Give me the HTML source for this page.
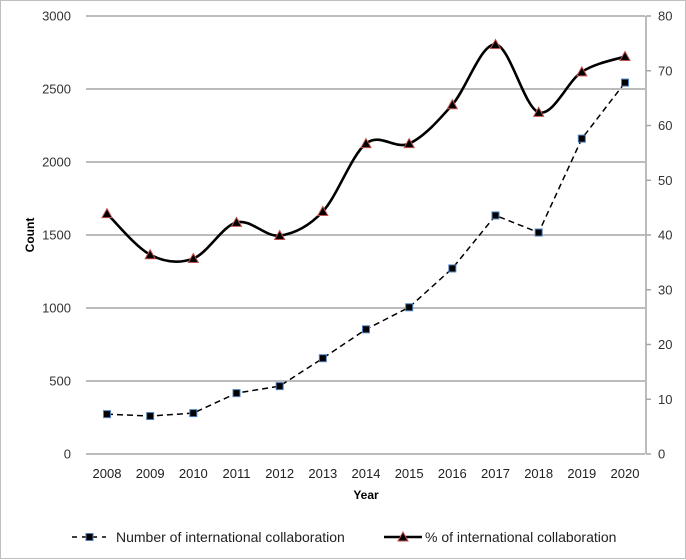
<!DOCTYPE html>
<html><head><meta charset="utf-8"><style>
body{margin:0;background:#fff;}
svg{display:block;font-family:"Liberation Sans",Arial,sans-serif;}
</style></head><body>
<svg width="686" height="560" viewBox="0 0 686 560">
<rect x="0.5" y="0.5" width="685" height="558" fill="#fff" stroke="#bfbfbf"/>
<g id="grid"></g>
<g id="axes"></g>
<path id="countLine" fill="none" stroke="#000" stroke-width="1.5" stroke-dasharray="6,4"/>
<path id="pctLine" fill="none" stroke="#000" stroke-width="2.6"/>
<g id="marks"></g>
<text x="34" y="235" transform="rotate(-90 34 235)" text-anchor="middle" font-size="12" font-weight="bold">Count</text>
<text x="366" y="499" text-anchor="middle" font-size="12" font-weight="bold">Year</text>
<g>
<line x1="72" y1="537" x2="106" y2="537" stroke="#000" stroke-width="1.5" stroke-dasharray="5,5"/>
<rect x="86" y="533.5" width="7" height="7" fill="#000" stroke="#4f81bd" stroke-width="1"/>
<text x="116" y="542" font-size="14" fill="#222">Number of international collaboration</text>
</g>
<g>
<line x1="384" y1="537" x2="422" y2="537" stroke="#000" stroke-width="2.6"/>
<polygon points="403,532 408,541 398,541" fill="#000" stroke="#c0504d" stroke-width="1"/>
<text x="425" y="542" font-size="14" fill="#222">% of international collaboration</text>
</g>
</svg>
<script>
const years=["2008","2009","2010","2011","2012","2013","2014","2015","2016","2017","2018","2019","2020"];
const countValues=[273,260,280,417,465,656,854,1005,1271,1634,1517,2160,2544];
const pctValues=[43.9,36.4,35.7,42.3,39.9,44.3,56.7,56.7,63.8,74.8,62.4,69.8,72.6];
const leftTicks=[0,500,1000,1500,2000,2500,3000];
const rightTicks=[0,10,20,30,40,50,60,70,80];
const NS="http://www.w3.org/2000/svg";
const X0=86,X1=645,Y0=454,Y1=16;
const xs=i=>107+i*(625-107)/(years.length-1);
const yL=v=>Y0-(v/3000)*(Y0-Y1);
const yR=v=>Y0-(v/80)*(Y0-Y1);
function mk(tag,attrs,parent){const e=document.createElementNS(NS,tag);for(const k in attrs)e.setAttribute(k,attrs[k]);parent.appendChild(e);return e;}
const grid=document.getElementById('grid'),axes=document.getElementById('axes'),marks=document.getElementById('marks');
leftTicks.forEach(t=>{
 const l=mk('line',{x1:X0,x2:X1,y1:yL(t),y2:yL(t),stroke:'#a6a6a6','stroke-width':1.5},grid);
 
 
 const tx=mk('text',{x:71,y:yL(t)+4.5,'text-anchor':'end','font-size':13,fill:'#333'},axes);
 tx.textContent=t;
 
 
});
mk('line',{x1:646,x2:646,y1:Y1,y2:Y0,stroke:'#a6a6a6','stroke-width':1.5},axes);
rightTicks.forEach(t=>{
 mk('line',{x1:646,x2:651,y1:yR(t),y2:yR(t),stroke:'#a6a6a6','stroke-width':1.5},axes);
 const tx=mk('text',{x:658,y:yR(t)+4.5,'font-size':13,fill:'#333'},axes);
 tx.textContent=t;
 
 
});
years.forEach((y,i)=>{
 const tx=mk('text',{x:xs(i),y:478,'text-anchor':'middle','font-size':13,fill:'#222'},axes);
 tx.textContent=y;
 
 
});
const cp=countValues.map((v,i)=>[xs(i),yL(v)]);
document.getElementById('countLine').setAttribute('d','M'+cp.map(p=>p.join(',')).join(' L'));
const pp=pctValues.map((v,i)=>[xs(i),yR(v)]);
let d='M'+pp[0].join(',');
for(let i=0;i<pp.length-1;i++){
 const p0=pp[Math.max(0,i-1)],p1=pp[i],p2=pp[i+1],p3=pp[Math.min(pp.length-1,i+2)];
 const k=1/6;
 d+=` C${p1[0]+(p2[0]-p0[0])*k},${p1[1]+(p2[1]-p0[1])*k} ${p2[0]-(p3[0]-p1[0])*k},${p2[1]-(p3[1]-p1[1])*k} ${p2[0]},${p2[1]}`;
}
document.getElementById('pctLine').setAttribute('d',d);
cp.forEach(p=>{
 const r=mk('rect',{x:p[0]-3.5,y:p[1]-3.5,width:7,height:7,fill:'#000',stroke:'#4f81bd','stroke-width':1},marks);
 
 
});
pp.forEach(p=>{
 const t=mk('polygon',{points:`${p[0]},${p[1]-5} ${p[0]+5},${p[1]+4} ${p[0]-5},${p[1]+4}`,fill:'#000',stroke:'#c0504d','stroke-width':1},marks);
 
 
});
</script>
</body></html>
